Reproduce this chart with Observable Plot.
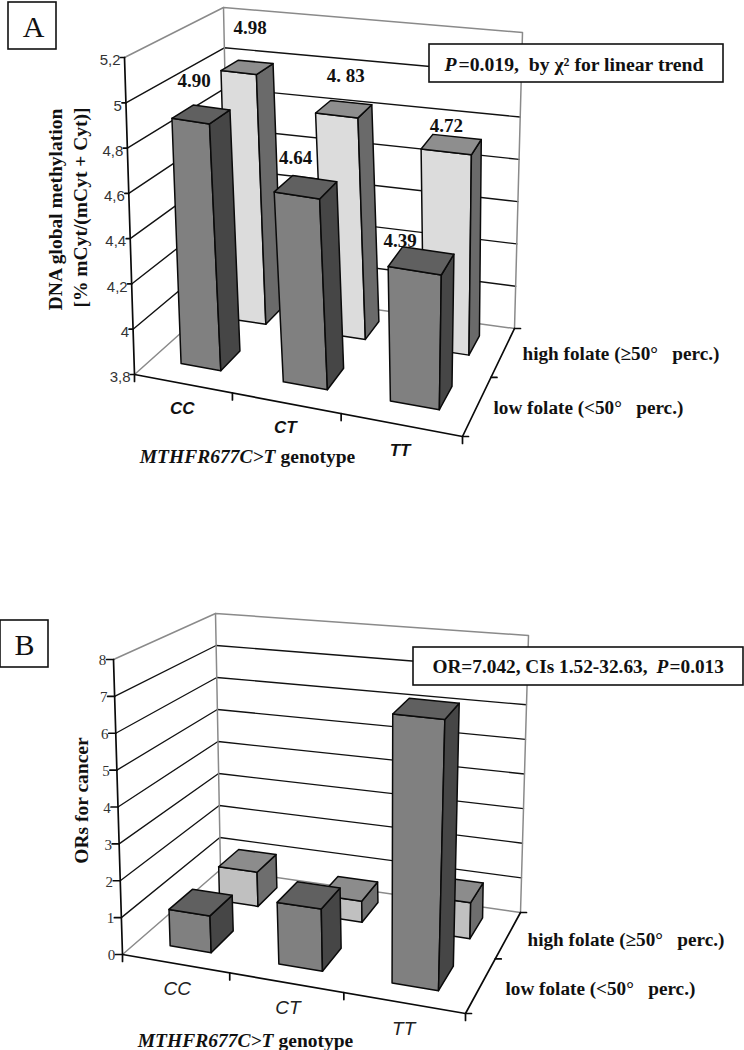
<!DOCTYPE html>
<html><head><meta charset="utf-8">
<script src="https://cdn.jsdelivr.net/npm/d3@7"></script>
<script src="https://cdn.jsdelivr.net/npm/@observablehq/plot@0.6"></script>
<style>html,body{margin:0;background:#fff}svg{display:block}</style>
</head><body><div id="chart"></div>
<script>
// ---- data ----
const genotypes = ["CC", "CT", "TT"];
const methylationLow = [4.90, 4.64, 4.39];
const methylationHigh = [4.98, 4.83, 4.72];
const methylationLowText = ["4.90", "4.64", "4.39"];
const methylationHighText = ["4.98", "4. 83", "4.72"];
const orLow = [1.0, 1.65, 7.042];
const orHigh = [1.0, 0.6, 1.0];
const methylationTicks = [3.8, 4.0, 4.2, 4.4, 4.6, 4.8, 5.0, 5.2];
const methylationTickText = ["3,8", "4", "4,2", "4,4", "4,6", "4,8", "5", "5,2"];
const orTicks = [0, 1, 2, 3, 4, 5, 6, 7, 8];
const highFolateText = "high folate (≥50°\u00a0\u00a0 perc.)";
const lowFolateText = "low folate (<50°\u00a0\u00a0 perc.)";

const SERIF = "Liberation Serif", SANS = "Liberation Sans";

// unit square -> quadrilateral (perspective map of the chart's floor / ceiling)
function homography(p00, p10, p11, p01) {
  const dx1 = p10[0]-p11[0], dx2 = p01[0]-p11[0], sx = p00[0]-p10[0]+p11[0]-p01[0];
  const dy1 = p10[1]-p11[1], dy2 = p01[1]-p11[1], sy = p00[1]-p10[1]+p11[1]-p01[1];
  const den = dx1*dy2 - dx2*dy1;
  const g = (sx*dy2 - dx2*sy)/den, h = (dx1*sy - sx*dy1)/den;
  return (u, v) => {
    const w = 1 + g*u + h*v;
    return [
      (p00[0] + (p10[0]-p00[0]+g*p10[0])*u + (p01[0]-p00[0]+h*p01[0])*v)/w,
      (p00[1] + (p10[1]-p00[1]+g*p10[1])*u + (p01[1]-p00[1]+h*p01[1])*v)/w
    ];
  };
}

function panel(cfg) {
  const floor = homography(...cfg.floor), ceil = homography(...cfg.ceil);
  const zOf = d3.scaleLinear().domain(cfg.domain).range([0, 1]);
  const P = (u, v, val) => {
    const a = floor(u, v), b = ceil(u, v), z = zOf(val);
    return {x: a[0] + (b[0]-a[0])*z, y: a[1] + (b[1]-a[1])*z};
  };
  const [lo, hi] = cfg.domain;
  const marks = [];
  const seg = (pts, stroke, sw) => marks.push(Plot.line(pts, {x: "x", y: "y", stroke, strokeWidth: sw, curve: "linear"}));
  const off = (p, dx, dy) => ({x: p.x + dx, y: p.y + dy});

  // walls: grid lines
  cfg.ticks.forEach(t => {
    if (t === lo || t === hi) return;
    seg([P(0,0,t), P(0,1,t), P(1,1,t)], "#111", cfg.gridWidth);
  });
  // grey frame
  seg([P(0,0,hi), P(0,1,hi), P(1,1,hi), P(1,1,lo), P(0,1,lo), P(0,0,lo)], "#8a8a8a", 1.5);
  seg([P(0,1,hi), P(0,1,lo)], "#8a8a8a", 1.5);

  // bars, back row first
  const face = (pts, fill) => marks.push(Plot.line(pts, {x: "x", y: "y", fill, stroke: "#0a0a0a", strokeWidth: 1.5, curve: "linear-closed"}));
  const bar = (i, row, val, col) => {
    const uc = cfg.uCentre[i], vc = cfg.rowCentre[row];
    const u0 = uc - cfg.halfU, u1 = uc + cfg.halfU, v0 = vc - cfg.halfV, v1 = vc + cfg.halfV;
    face([P(u0,v0,lo), P(u1,v0,lo), P(u1,v0,val), P(u0,v0,val)], col[0]);
    face([P(u1,v0,lo), P(u1,v1,lo), P(u1,v1,val), P(u1,v0,val)], col[2]);
    face([P(u0,v0,val), P(u1,v0,val), P(u1,v1,val), P(u0,v1,val)], col[1]);
  };
  cfg.high.forEach((v, i) => bar(i, 1, v, cfg.highColours));
  cfg.low.forEach((v, i) => bar(i, 0, v, cfg.lowColours));

  // black axes
  seg([P(0,0,hi), P(0,0,lo)], "#0a0a0a", 1.7);
  seg([P(0,0,lo), P(1,0,lo), P(1,1,lo)], "#0a0a0a", 1.7);
  // value ticks and labels
  cfg.ticks.forEach((t, i) => {
    const p = P(0,0,t);
    seg([p, off(p, -cfg.tickLen, 0)], "#0a0a0a", 1.7);
  });
  marks.push(Plot.text(cfg.ticks.map((t, i) => ({...off(P(0,0,t), cfg.tickDx, cfg.tickDy), s: cfg.tickText[i]})), {
    x: "x", y: "y", text: "s", textAnchor: cfg.tickAnchor, fontFamily: cfg.tickFont, fontSize: cfg.tickSize, fill: "#333", lineAnchor: "middle"
  }));
  // category ticks
  [0, 1/3, 2/3, 1].forEach(u => {
    const p = P(u,0,lo);
    seg([p, off(p, 0, 7)], "#0a0a0a", 1.7);
  });
  // series ticks
  [0, .5, 1].forEach(v => {
    const p = P(1,v,lo);
    seg([p, off(p, 6, 0)], "#0a0a0a", 1.7);
  });
  // category labels
  marks.push(Plot.text(genotypes.map((s, i) => ({...off(P((i+.5)/3,0,lo), cfg.catDx[i], cfg.catDy[i]), s})), {
    x: "x", y: "y", text: "s", fontFamily: SANS, fontStyle: "italic", fontWeight: cfg.catWeight, fontSize: cfg.catSize, fill: cfg.catFill
  }));

  // value labels on the bars
  if (cfg.valueText) {
    [[cfg.low, 0], [cfg.high, 1]].forEach(([vals, row]) => {
      const rows = cfg.valueText[row], ox = cfg.valueDx[row], oy = cfg.valueDy[row];
      marks.push(Plot.text(vals.map((v, i) => ({...off(P(cfg.uCentre[i], cfg.rowCentre[row], v), ox[i], oy[i]), s: rows[i]})), {
        x: "x", y: "y", text: "s", fontFamily: SERIF, fontWeight: "bold", fontSize: 19, fill: "#111"
      }));
    });
  }

  // free text runs
  cfg.boxes.forEach(b => marks.push(Plot.rect([b], {x1: "x1", x2: "x2", y1: "y1", y2: "y2", fill: "#fff", stroke: "#111", strokeWidth: 1.6})));
  cfg.texts.forEach(t => marks.push(Plot.text([t], {
    x: "x", y: "y", text: "s", textAnchor: t.anchor || "start", fontFamily: t.font || SERIF,
    fontWeight: t.weight || "bold", fontStyle: t.italic ? "italic" : "normal", fontSize: t.size,
    rotate: t.rotate || 0, fill: t.fill || "#111"
  })));

  return Plot.plot({
    width: 744, height: cfg.yRange[1]-cfg.yRange[0],
    margin: 0,
    x: {domain: [0, 744], axis: null},
    y: {domain: [cfg.yRange[1], cfg.yRange[0]], axis: null},
    marks
  });
}

const chart = document.getElementById("chart");
chart.append(panel({
  yRange: [0, 500], domain: [3.8, 5.2], ticks: methylationTicks, tickText: methylationTickText,
  floor: [[134,374],[462,436],[514,328],[229,289]],
  ceil: [[124,57],[476,112],[522,32],[223,7]],
  low: methylationLow, high: methylationHigh,
  uCentre: [.172,.516,.841], rowCentre: [.267,.772], halfU: .069, halfV: .102, gridWidth: 1.4,
  highColours: ["#dcdcdc","#8e8e8e","#6a6a6a"], lowColours: ["#808080","#606060","#464646"],
  tickLen: 4, tickDx: -4, tickDy: 3, tickAnchor: "end", tickFont: SANS, tickSize: 15,
  catDx: [0,0,0], catDy: [25,25,26], catWeight: "bold", catSize: 17, catFill: "#111",
  valueText: [methylationLowText, methylationHighText],
  valueDx: [[-7,-10,-21],[3,2,-5]], valueDy: [[-33,-29,-19],[-39,-33,-18]],
  boxes: [{x1:8,x2:56,y1:2,y2:49},{x1:429,x2:723,y1:44,y2:82}],
  texts: [
    {x:33,y:27,s:"A",anchor:"middle",size:30,weight:"normal"},
    {x:444,y:64,s:"P",italic:true,size:19.7},
    {x:458,y:64,s:"=0.019,\u00a0 by χ² for linear trend",size:19.7},
    {x:55,y:209,s:"DNA global methylation",anchor:"middle",size:19.5,rotate:-90},
    {x:80,y:207,s:"[% mCyt/(mCyt + Cyt)]",anchor:"middle",size:19.5,rotate:-90},
    {x:275,y:456,s:"MTHFR677C>T",anchor:"end",italic:true,size:19.5},
    {x:280,y:456,s:"genotype",size:19.5},
    {x:522,y:353,s:highFolateText,size:19.2},
    {x:493,y:407,s:lowFolateText,size:19.2}
  ]
}));
chart.append(panel({
  yRange: [500, 1050], domain: [0, 8], ticks: orTicks, tickText: orTicks.map(String),
  floor: [[122,954],[465,1013],[520,912],[220,869]],
  ceil: [[113,659],[479,697],[528,635],[215,613]],
  low: orLow, high: orHigh,
  uCentre: [.167,.505,.836], rowCentre: [.26,.77], halfU: .065, halfV: .115, gridWidth: 1.3,
  highColours: ["#c0c0c0","#8c8c8c","#6e6e6e"], lowColours: ["#808080","#606060","#464646"],
  tickLen: 7, tickDx: -11, tickDy: 1, tickAnchor: "middle", tickFont: SERIF, tickSize: 15,
  catDx: [2,2,0], catDy: [25,25,26], catWeight: "normal", catSize: 19, catFill: "#222",
  boxes: [{x1:0,x2:48,y1:620,y2:667},{x1:413,x2:743,y1:647,y2:685}],
  texts: [
    {x:24,y:645,s:"B",anchor:"middle",size:30,weight:"normal"},
    {x:647,y:666,s:"OR=7.042, CIs 1.52-32.63,",anchor:"end",size:19.3},
    {x:656,y:666,s:"P",italic:true,size:19.3},
    {x:669,y:666,s:"=0.013",size:19.3},
    {x:81,y:800,s:"ORs for cancer",anchor:"middle",size:19.5,rotate:-90},
    {x:273,y:1040,s:"MTHFR677C>T",anchor:"end",italic:true,size:19.5},
    {x:278,y:1040,s:"genotype",size:19.5},
    {x:527,y:939,s:highFolateText,size:19.2},
    {x:505,y:988,s:lowFolateText,size:19.2}
  ]
}));
</script></body></html>
